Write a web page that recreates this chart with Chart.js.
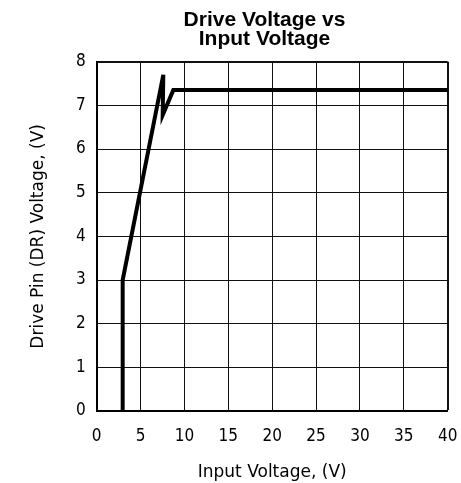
<!DOCTYPE html>
<html lang="en">
<head>
  <meta charset="UTF-8">
  <title>Drive Voltage vs Input Voltage</title>
  <script src="https://cdn.jsdelivr.net/npm/chart.js"></script>
  <style>
    body {
      margin: 0;
      background: white;
    }

    .wrap {
      width: 461px;
      height: 483px;
    }
  </style>
</head>
<body>
  <div class="wrap">
    <canvas id="driveChart"></canvas>
  </div>

  <script>
    // curve
    const inputVoltage = [2.96, 2.96, 7.59, 7.52, 8.73, 40];
    const driveVoltage = [0, 3.0, 7.7, 6.78, 7.35, 7.35];

    const xTicks = [0, 5, 10, 15, 20, 25, 30, 35, 40];
    const yTicks = [0, 1, 2, 3, 4, 5, 6, 7, 8];

    const tickFont = { family: "'DejaVu Sans Condensed', 'DejaVu Sans', sans-serif", size: 17 };
    const axisTitleFont = { family: "'DejaVu Sans', sans-serif", size: 17, lineHeight: 1.2 };

    const points = inputVoltage.map((v, i) => ({ x: v, y: driveVoltage[i] }));

    const ctx = document.getElementById('driveChart').getContext('2d');

    const chart = new Chart(ctx, {
      type: 'line',
      data: {
        datasets: [
          {
            data: points,
            borderColor: '#000',
            borderWidth: 4,
            borderJoinStyle: 'miter',
            pointRadius: 0,
            tension: 0,
            fill: false
          }
        ]
      },
      options: {
        responsive: true,
        maintainAspectRatio: false,
        animation: false,
        layout: {
          padding: { left: 68, right: 0, top: 0, bottom: 0 }
        },
        plugins: {
          legend: { display: false },
          tooltip: { enabled: false },
          title: {
            display: true,
            text: ['Drive Voltage vs', 'Input Voltage'],
            color: '#000',
            font: { family: "'Liberation Sans', Arial, sans-serif", size: 21, weight: 'bold', lineHeight: 0.92 },
            padding: { top: 10.6, bottom: 12.5 }
          }
        },
        scales: {
          x: {
            type: 'linear',
            min: 0,
            max: 40,
            afterBuildTicks: (scale) => { scale.ticks = xTicks.map(v => ({ value: v })); },
            afterFit: (scale) => {
              scale.height = 72;
              scale.paddingRight = 13.3;
              scale.paddingLeft = 0;
            },
            ticks: {
              color: '#000',
              font: tickFont,
              padding: 15,
              maxRotation: 0
            },
            grid: {
              color: '#111',
              lineWidth: (c) => (c.tick && c.tick.value === 40 ? 2 : 1),
              drawTicks: false
            },
            border: { color: '#000', width: 2 },
            title: {
              display: true,
              text: 'Input Voltage, (V)',
              color: '#000',
              font: axisTitleFont,
              padding: { top: 0, bottom: 0 }
            }
          },
          y: {
            type: 'linear',
            min: 0,
            max: 8,
            afterBuildTicks: (scale) => { scale.ticks = yTicks.map(v => ({ value: v })); },
            afterFit: (scale) => {
              scale.width = 28.7;
            },
            ticks: {
              color: '#000',
              font: tickFont,
              padding: 11
            },
            grid: {
              color: '#111',
              lineWidth: (c) => (c.tick && c.tick.value === 8 ? 2 : 1),
              drawTicks: false
            },
            border: { color: '#000', width: 2 },
            title: {
              display: true,
              text: 'Drive Pin (DR) Voltage, (V)',
              color: '#000',
              font: axisTitleFont,
              padding: { top: -39.7, bottom: 0 }
            }
          }
        }
      }
    });
  </script>
</body>
</html>
